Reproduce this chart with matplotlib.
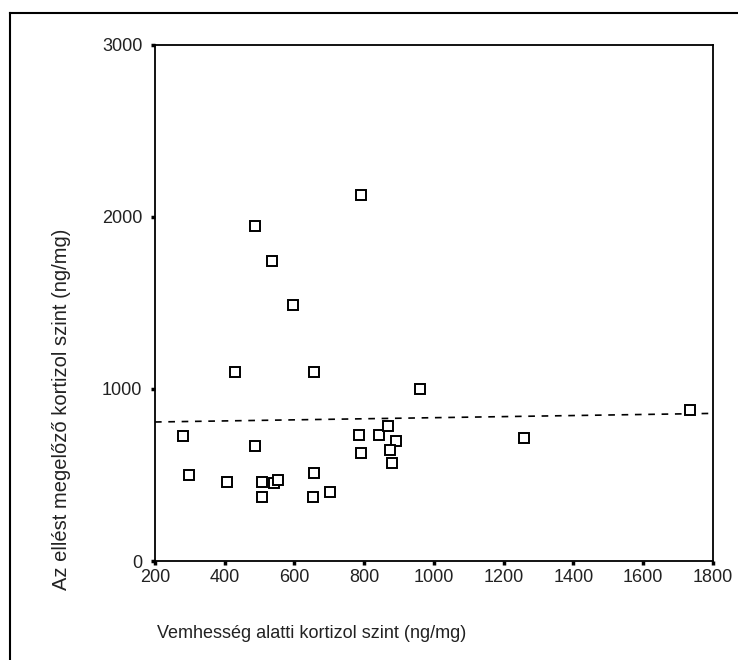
import matplotlib
matplotlib.use("Agg")
import matplotlib.pyplot as plt
from matplotlib.lines import Line2D

plt.rcParams['font.family'] = ['Liberation Sans', 'DejaVu Sans']

# values
vemh = [280, 297, 407, 486, 508, 508, 540, 553, 657, 652, 703, 786, 791, 842,
        869, 891, 873, 880, 791, 486, 536, 596, 430, 657, 959, 1258, 1733]
elles = [727, 500, 461, 669, 461, 372, 452, 471, 510, 372, 403, 734, 626, 734,
         783, 696, 645, 570, 2129, 1948, 1743, 1488, 1097, 1097, 1000, 717, 878]

# fitted line as drawn
fit_x = [200, 1800]
fit_y = [808, 858]

xticks = [200, 400, 600, 800, 1000, 1200, 1400, 1600, 1800]
yticks = [0, 1000, 2000, 3000]

txt = '#222222'

fig = plt.figure(figsize=(7.38, 6.6), dpi=100)
ax = fig.add_axes([0.210, 0.150, 0.756, 0.782])

ax.plot(fit_x, fit_y, color='black', lw=1.2, ls=(0, (4, 4)))
ax.plot(vemh, elles, ls='none', marker='s', ms=6.5, mfc='white', mec='black', mew=1.4)

ax.set_xlim(200, 1800)
ax.set_ylim(0, 3000)
ax.set_xticks(xticks)
ax.set_yticks(yticks)
ax.tick_params(direction='out', length=3, width=2.5, labelsize=13, colors='black',
               labelcolor=txt)
ax.tick_params(axis='y', pad=6)
ax.tick_params(axis='x', pad=3)
for s in ax.spines.values():
    s.set_linewidth(1.3)

fig.text(157 / 738, 1 - 634 / 660, 'Vemhesség alatti kortizol szint (ng/mg)',
         ha='left', va='center', fontsize=13, color=txt)
fig.text(62 / 738, 1 - 409 / 660, 'Az ellést megelőző kortizol szint (ng/mg)',
         ha='center', va='center', rotation=90, fontsize=14.5, color=txt)

# frame round the chart (only top and left visible)
fig.add_artist(Line2D([10 / 738, 10 / 738], [0, 1 - 13 / 660], color='black', lw=1.5))
fig.add_artist(Line2D([10 / 738, 1], [1 - 13 / 660, 1 - 13 / 660], color='black', lw=1.5))

fig.savefig("out.png", dpi=100)
